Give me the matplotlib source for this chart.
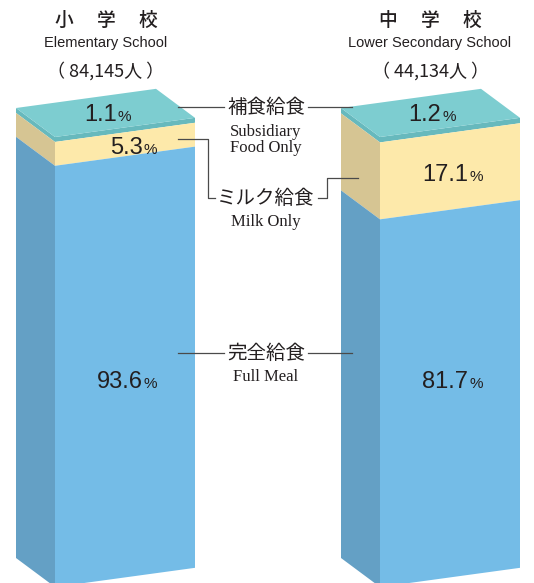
import matplotlib.pyplot as plt
from matplotlib.patches import Polygon

plt.rcParams['font.family'] = ['Noto Sans CJK JP', 'DejaVu Sans']

# data
schools_ja = ["小学校", "中学校"]
schools_en = ["Elementary School", "Lower Secondary School"]
counts = ["84,145", "44,134"]
# stacked from top: subsidiary, milk only, full meal (%)
subsidiary = [1.1, 1.2]
milk_only = [5.3, 17.1]
full_meal = [93.6, 81.7]

cat_ja = ["補食給食", "ミルク給食", "完全給食"]
cat_en = ["Subsidiary\nFood Only", "Milk Only", "Full Meal"]

# colours: (front, side) for each segment, top face
face_cols = [("#67b9bd", "#67b9bd"), ("#fde9aa", "#d6c593"), ("#74bce7", "#64a0c5")]
top_col = "#7dcdd0"
txt = "#231f20"

# geometry in pixels
bar_x = [55, 380]
bar_w = 140
top_y = 137
slope = -0.137
depth = (-39, -29)
full_h = 450

fig = plt.figure(figsize=(5.34, 5.83), dpi=100)
ax = fig.add_axes([0, 0, 1, 1])
ax.set_xlim(0, 534)
ax.set_ylim(583, 0)
ax.axis("off")

dx, dy = depth
for i, x0 in enumerate(bar_x):
    vals = [subsidiary[i], milk_only[i], full_meal[i]]
    y = top_y
    for k, v in enumerate(vals):
        h = v / 100 * full_h
        ya, yb = y, y + h
        front = [(x0, ya), (x0 + bar_w, ya + slope * bar_w),
                 (x0 + bar_w, yb + slope * bar_w), (x0, yb)]
        side = [(x0, ya), (x0 + dx, ya + dy), (x0 + dx, yb + dy), (x0, yb)]
        ax.add_patch(Polygon(side, closed=True, fc=face_cols[k][1], ec="none"))
        ax.add_patch(Polygon(front, closed=True, fc=face_cols[k][0], ec="none"))

        cx = x0 + bar_w / 2
        if k == 1:
            ly = (ya + yb) / 2 + slope * bar_w / 2 + 4
        elif k == 2:
            ly = 382
        if k > 0:
            sx = cx + 18
            ax.text(sx, ly, f"{v:.1f}", ha="right", va="center", fontsize=17,
                    family="Liberation Sans", color=txt)
            ax.text(sx + 1, ly + 2, "%", ha="left", va="center", fontsize=11,
                    family="Liberation Sans", color=txt)
        y = yb

    # top face
    top = [(x0, top_y), (x0 + bar_w, top_y + slope * bar_w),
           (x0 + bar_w + dx, top_y + slope * bar_w + dy), (x0 + dx, top_y + dy)]
    ax.add_patch(Polygon(top, closed=True, fc=top_col, ec="none"))
    tcx = sum(p[0] for p in top) / 4
    tcy = sum(p[1] for p in top) / 4
    ax.text(tcx + 11, tcy + 2, f"{subsidiary[i]:.1f}", ha="right", va="center",
            fontsize=17, family="Liberation Sans", color=txt)
    ax.text(tcx + 12, tcy + 4, "%", ha="left", va="center", fontsize=11,
            family="Liberation Sans", color=txt)

    # headers
    hx = [106, 430][i]
    for j, ch in enumerate(schools_ja[i]):
        ax.text(hx + (j - 1) * 42, 20, ch, ha="center", va="center", fontsize=13.5,
                weight="medium", color=txt)
    ax.text(hx, 43, schools_en[i], ha="center", va="center",
            fontsize=10.5, family="Liberation Sans", color=txt)
    ax.text(hx, 71, f"（ {counts[i]}人 ）", ha="center", va="center", fontsize=13,
            color=txt)

# centre legend labels with leader lines
lc = "#4a4a4a"
mid = 266
ax.text(mid, 107, cat_ja[0], ha="center", va="center", fontsize=14, color=txt)
ax.text(mid, 140, cat_en[0], ha="center", va="center", fontsize=12,
        family="Liberation Serif", linespacing=1.0, color=txt)
ax.plot([178, 224], [107, 107], color=lc, lw=0.9)
ax.plot([308, 352], [107, 107], color=lc, lw=0.9)

ax.text(mid, 198, cat_ja[1], ha="center", va="center", fontsize=14, color=txt)
ax.text(mid, 222, cat_en[1], ha="center", va="center", fontsize=12,
        family="Liberation Serif", color=txt)
ax.plot([178, 208, 208, 215], [139, 139, 198, 198], color=lc, lw=0.9)
ax.plot([318, 327, 327, 358], [198, 198, 178, 178], color=lc, lw=0.9)

ax.text(mid, 353, cat_ja[2], ha="center", va="center", fontsize=14, color=txt)
ax.text(mid, 377, cat_en[2], ha="center", va="center", fontsize=12,
        family="Liberation Serif", color=txt)
ax.plot([178, 224], [353, 353], color=lc, lw=0.9)
ax.plot([308, 352], [353, 353], color=lc, lw=0.9)

fig.savefig("out.png", dpi=100)
